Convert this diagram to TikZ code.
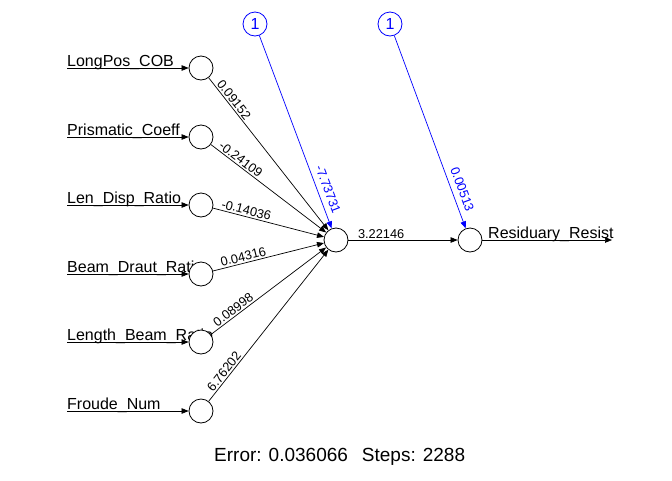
\documentclass[tikz,border=0pt]{standalone}
\usepackage{fontspec}
\setmainfont{Liberation Sans}
\usepackage{tikz}
\usetikzlibrary{arrows.meta}
\definecolor{ink}{HTML}{000000}
\definecolor{biasblue}{HTML}{0000FF}
\tikzset{
  neuron/.style={circle, draw=ink, fill=white, line width=0.8pt, minimum size=24pt, inner sep=0pt},
  biasnode/.style={neuron, draw=biasblue, text=biasblue, font=\fontsize{16}{16}\selectfont},
  wire/.style={draw=ink, line width=0.7pt, -{Triangle[length=7pt,width=5.5pt]}},
  biaswire/.style={wire, draw=biasblue},
  wlab/.style={sloped, above, inner sep=1.5pt, font=\fontsize{12.8}{13}\selectfont},
  blab/.style={wlab, above=4pt, text=biasblue},
  inlab/.style={anchor=base west, inner sep=0pt, font=\fontsize{16}{16}\selectfont},
}
\begin{document}
\begin{tikzpicture}[x=1pt, y=-1pt]
  \useasboundingbox (0,0) rectangle (672,480);
  % input layer
  \foreach \n/\lab/\y in {i1/LongPos\_COB/68, i2/Prismatic\_Coeff/137, i3/Len\_Disp\_Ratio/205,
                          i4/Beam\_Draut\_Ratio/274, i5/Length\_Beam\_Ratio/342, i6/Froude\_Num/411}{
    \node[inlab] (\n t) at (67,\y-2) {\lab};
    \coordinate (\n s) at (67,\y);
    \node[neuron] (\n) at (201,\y) {};
    \draw[wire] (\n s) -- (\n);
  }
  % hidden, output and bias nodes
  \node[neuron] (h) at (336,240) {};
  \node[neuron] (o) at (470,240) {};
  \node[biasnode] (b1) at (255,24) {1};
  \node[biasnode] (b2) at (390,24) {1};
  \node[inlab] (ot) at (488,238) {Residuary\_Resist};
  \coordinate (oe) at (612,240);
  \draw[wire] (o) -- (oe);
  % weights
  \foreach \n/\w/\p in {i1/0.09152/0.17, i2/-0.24109/0.226, i3/-0.14036/0.286,
                        i4/0.04316/0.286, i5/0.08998/0.227, i6/6.76202/0.17}
    \draw[wire] (\n) -- node[wlab, pos=\p] {\w} (h);
  \draw[wire] (h) -- node[wlab, pos=0.3] {3.22146} (o);
  \draw[biaswire] (b1) -- node[blab, pos=0.816] {-7.73731} (h);
  \draw[biaswire] (b2) -- node[blab, pos=0.816] {0.00513} (o);
  \node[anchor=base west, inner sep=0pt, font=\fontsize{19}{19}\selectfont] (err) at (214,461)
    {Error: 0.036066\hspace{14pt}Steps: 2288};
\end{tikzpicture}
\end{document}
